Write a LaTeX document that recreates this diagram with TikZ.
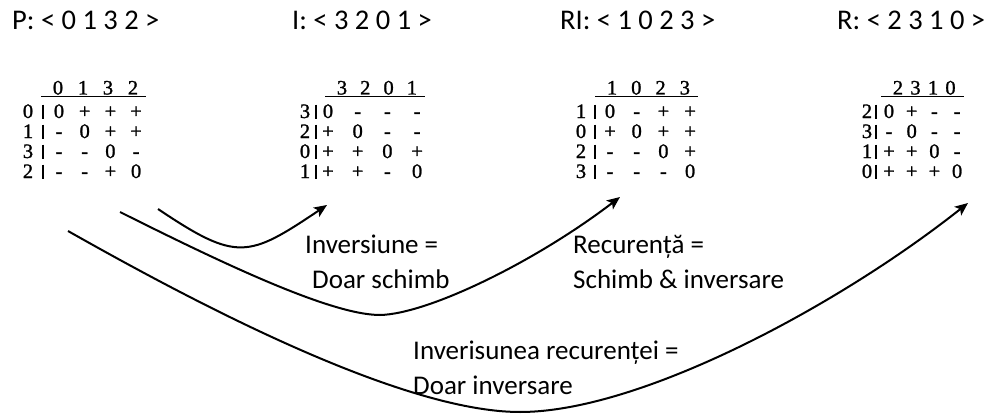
\documentclass[tikz,border=0pt]{standalone}
\usepackage{fontspec}
\setmainfont{Carlito}
\newfontfamily\tabfont[FakeBold=1.2]{Liberation Serif}
\usetikzlibrary{arrows.meta}

\tikzset{
  title/.style={font=\fontsize{28.5}{34}\selectfont, inner sep=0, anchor=base west},
  lbl/.style={font=\fontsize{27}{33}\selectfont, inner sep=0, anchor=base west},
  cell/.style={font=\tabfont\fontsize{20.5}{22}\selectfont, inner sep=0, anchor=base,
    text height=13pt, text depth=0pt},
  uline/.style={line width=1.4pt},
  tbar/.style={line width=1.4pt},
  link/.style={line width=2pt, -{Stealth[length=13pt,width=11pt,inset=3pt]}},
}

% #1 name, #2 label x, #3 bar x, #4 first entry x, #5 entry step,
% #6 first header x, #7 header step, #8 header digits, #9 rows
\newcommand\permtable[9]{%
  \foreach \hv [count=\hc] in {#8}
    \node[cell] (#1-h\hc) at ({#6+(\hc-1)*#7}, 94.5) {\hv};
  \draw[uline] ({#6-17}, 96.5) -- ({#6+3*#7+13}, 96.5);
  \foreach \lb/\va/\vb/\vc/\vd [count=\rr] in {#9} {
    \pgfmathsetmacro\by{118+(\rr-1)*20}
    \node[cell] (#1-\rr-0) at (#2, \by) {\lb};
    \draw[tbar] (#3, {\by-13.5}) -- (#3, {\by+0.5});
    \node[cell] (#1-\rr-1) at (#4, \by) {\va};
    \node[cell] (#1-\rr-2) at ({#4+#5}, \by) {\vb};
    \node[cell] (#1-\rr-3) at ({#4+2*#5}, \by) {\vc};
    \node[cell] (#1-\rr-4) at ({#4+3*#5}, \by) {\vd};
  }%
}

\begin{document}
\begin{tikzpicture}[x=1pt, y=-1pt]
  \useasboundingbox (0,0) rectangle (991,420);

  % permutation headings
  \node[title] (tP)  at (12,29.5)  {P: < 0 1 3 2 >};
  \node[title] (tI)  at (292,29.5) {I: < 3 2 0 1 >};
  \node[title] (tRI) at (560,29.5) {RI: < 1 0 2 3 >};
  \node[title] (tR)  at (837,29.5) {R: < 2 3 1 0 >};

  % interval tables
  \permtable{P}{28}{43}{59}{25.7}{58}{25}{0,1,3,2}%
    {0/0/+/+/+, 1/-/0/+/+, 3/-/-/0/-, 2/-/-/+/0}
  \permtable{I}{305}{316}{328}{29.7}{342}{23.3}{3,2,0,1}%
    {3/0/-/-/-, 2/+/0/-/-, 0/+/+/0/+, 1/+/+/-/0}
  \permtable{RI}{581}{595}{610}{26.7}{612}{24.3}{1,0,2,3}%
    {1/0/-/+/+, 0/+/0/+/+, 2/-/-/0/+, 3/-/-/-/0}
  \permtable{R}{867}{876}{889}{22.7}{898}{17.5}{2,3,1,0}%
    {2/0/+/-/-, 3/-/0/-/-, 1/+/+/0/-, 0/+/+/+/0}

  % arrow ends
  \coordinate (p1) at (158,209);
  \coordinate (p2) at (120,212);
  \coordinate (p3) at (68,231);
  \coordinate (i1) at (327,205);
  \coordinate (ri1) at (620,197);
  \coordinate (r1) at (968,203);
  \coordinate (m2) at (380,315);
  \coordinate (m3) at (520,412);

  \draw[link] (p1) .. controls (237,262) and (248,258) .. (i1);
  \draw[link] (p2) .. controls (218,261) and (330,315) .. (m2)
                   .. controls (428,314) and (535,262) .. (ri1);
  \draw[link] (p3) .. controls (190,300) and (400,412) .. (m3)
                   .. controls (640,412) and (838,306) .. (r1);

  % transformation labels
  \node[lbl] (l1a) at (305,253) {Inversiune =};
  \node[lbl] (l1b) at (312,288) {Doar schimb};
  \node[lbl] (l2a) at (573,253) {Recurență =};
  \node[lbl] (l2b) at (573,288) {Schimb \& inversare};
  \node[lbl] (l3a) at (413,359) {Inverisunea recurenței =};
  \node[lbl] (l3b) at (413,394) {Doar inversare};
\end{tikzpicture}
\end{document}
